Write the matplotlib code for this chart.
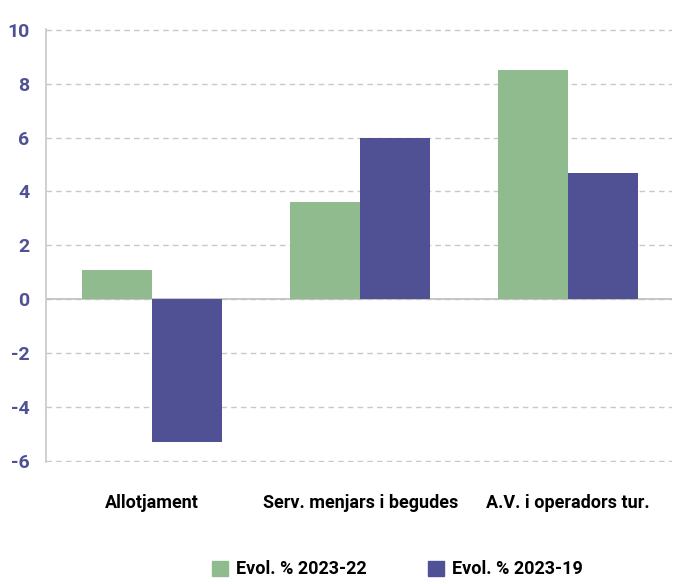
import numpy as np
import matplotlib.pyplot as plt
from matplotlib.patches import Patch

# =====================
# Dades
# =====================
categories = ["Allotjament", "Serv. menjars i begudes", "A.V. i operadors tur."]
evol_2023_22 = [1.1, 3.6, 8.5]
evol_2023_19 = [-5.3, 6.0, 4.7]
series_labels = ["Evol. % 2023-22", "Evol. % 2023-19"]
yticks = [-6, -4, -2, 0, 2, 4, 6, 8, 10]

GREEN = "#8fbb8f"
PURPLE = "#4f5194"

plt.rcParams["font.family"] = ["Roboto", "DejaVu Sans"]
plt.rcParams["font.weight"] = "bold"

fig = plt.figure(figsize=(6.77, 5.84), dpi=100)
ax = fig.add_axes([0.068, 0.209, 0.925, 0.741])

x = np.arange(len(categories))
w = 0.336
ax.bar(x - w / 2, evol_2023_22, w, color=GREEN, zorder=3)
ax.bar(x + w / 2, evol_2023_19, w, color=PURPLE, zorder=3)

ax.set_xlim(-0.51, 2.5)
ax.set_ylim(-6.04, 10.02)
ax.set_yticks(yticks)
ax.set_yticklabels([str(v) for v in yticks], color=PURPLE, fontsize=14)
ax.set_xticks(x)
ax.set_xticklabels(categories, fontsize=13, color="black")
ax.tick_params(axis="y", length=0, pad=12)
ax.tick_params(axis="x", length=0, pad=23)

ax.grid(axis="y", color="#c8c8c8", linestyle=(0, (4, 3)), linewidth=1, zorder=0)
ax.axhline(0, color="#bfbfbf", linewidth=1.2, zorder=2)
for s in ["top", "right", "bottom"]:
    ax.spines[s].set_visible(False)
ax.spines["left"].set_color("#c8c8c8")
ax.spines["left"].set_linewidth(1.2)

handles = [Patch(color=GREEN), Patch(color=PURPLE)]
fig.legend(handles, series_labels, loc="center", bbox_to_anchor=(0.587, 0.025),
           ncol=2, frameon=False, fontsize=13, handlelength=0.9, handleheight=0.9,
           handletextpad=0.45, columnspacing=3.4)

fig.savefig("out.png", dpi=100)
plt.close()
